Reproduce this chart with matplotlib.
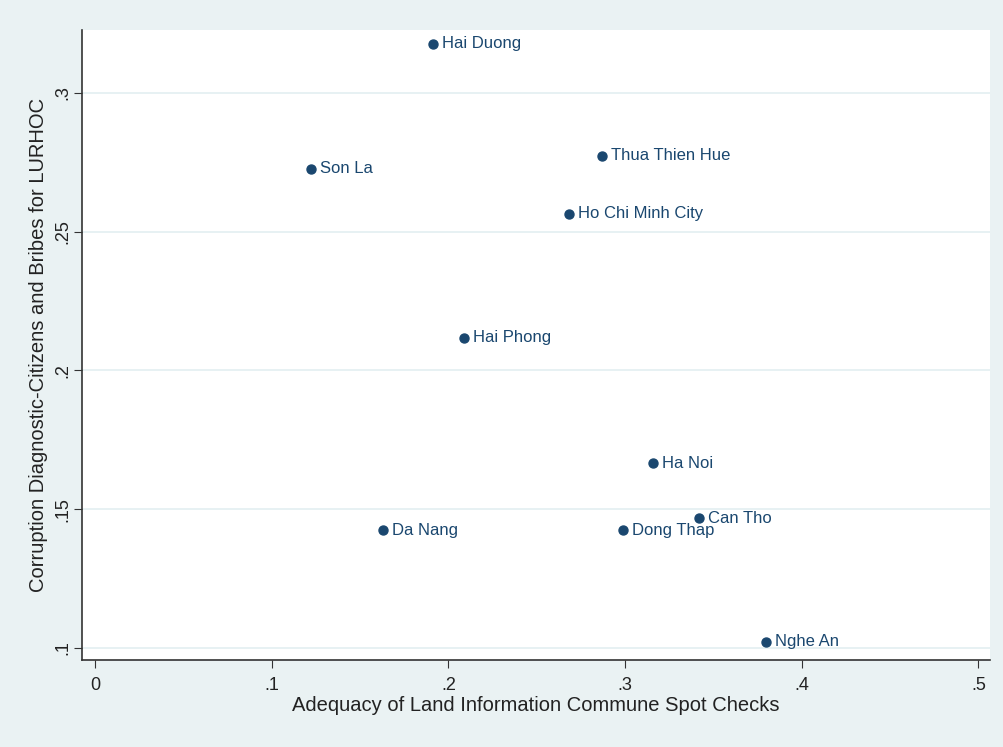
import matplotlib.pyplot as plt

plt.rcParams['font.family'] = ['Liberation Sans', 'DejaVu Sans']

# Data
# -------------------------
provinces = ['Hai Duong', 'Son La', 'Thua Thien Hue', 'Ho Chi Minh City',
             'Hai Phong', 'Ha Noi', 'Can Tho', 'Dong Thap', 'Da Nang',
             'Nghe An']
spot_checks = [0.191, 0.122, 0.287, 0.268, 0.209, 0.316, 0.342, 0.299,
               0.163, 0.380]
bribes = [0.3177, 0.2726, 0.2773, 0.2564, 0.2117, 0.1666, 0.1468, 0.1425,
          0.1425, 0.1022]

x_ticks = [0, 0.1, 0.2, 0.3, 0.4, 0.5]
x_tick_labels = ['0', '.1', '.2', '.3', '.4', '.5']
y_ticks = [0.1, 0.15, 0.2, 0.25, 0.3]
y_tick_labels = ['.1', '.15', '.2', '.25', '.3']

navy = '#1a476f'
bg = '#eaf2f3'

# Figure setup
# ------------
fig = plt.figure(figsize=(10.04, 7.47), dpi=100, facecolor=bg)
ax = fig.add_axes([0.0817, 0.1165, 0.9043, 0.8435])
ax.set_facecolor('white')

ax.set_xlim(-0.0074, 0.5065)
ax.set_ylim(0.0957, 0.3227)

ax.set_xticks(x_ticks)
ax.set_xticklabels(x_tick_labels, fontsize=13)
ax.set_yticks(y_ticks)
ax.set_yticklabels(y_tick_labels, fontsize=13, rotation=90, va='center')
ax.tick_params(direction='out', length=6, color='#333333', labelcolor='#222222')
ax.tick_params(axis='x', pad=6)
ax.tick_params(axis='y', pad=2)

for side in ['top', 'right']:
    ax.spines[side].set_visible(False)
for side in ['left', 'bottom']:
    ax.spines[side].set_color('#333333')
    ax.spines[side].set_linewidth(1.2)

ax.grid(axis='y', color='#e3eff1', linewidth=1.2)
ax.set_axisbelow(True)

ax.set_xlabel('Adequacy of Land Information Commune Spot Checks',
              fontsize=14.5, color='#222222', labelpad=2)
ax.set_ylabel('Corruption Diagnostic-Citizens and Bribes for LURHOC',
              fontsize=14.5, color='#222222', labelpad=4)

# Plot data
# ---------
ax.scatter(spot_checks, bribes, s=42, color=navy, zorder=3)
for name, x, y in zip(provinces, spot_checks, bribes):
    ax.annotate(name, (x, y), xytext=(6.5, 0), textcoords='offset points',
                ha='left', va='center', fontsize=12, color=navy)

fig.savefig('out.png', dpi=100, facecolor=bg)
